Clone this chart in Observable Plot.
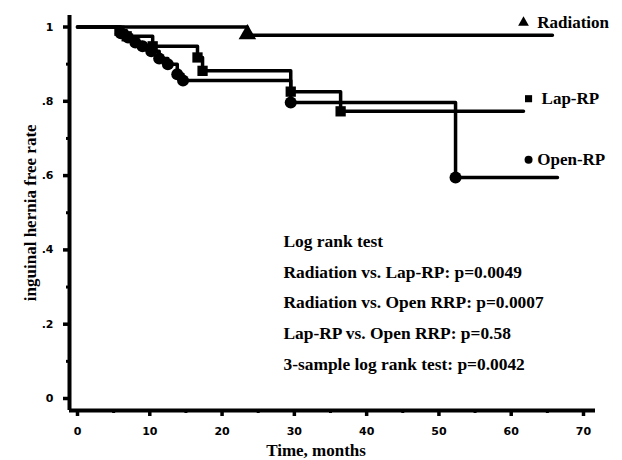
<!DOCTYPE html>
<html><head><meta charset="utf-8">
<script src="https://cdn.jsdelivr.net/npm/d3@7"></script>
<script src="https://cdn.jsdelivr.net/npm/@observablehq/plot@0.6"></script>
<style>body{margin:0;background:#fff} svg{display:block}</style>
</head><body><div id="chart"></div>
<script>
// Series and Kaplan-Meier step data (time in months, survival fraction)
const seriesNames = ["Radiation", "Lap-RP", "Open-RP"];
const radTime = [23.5];
const radSurv = [0.978];
const lapTime = [5.8, 6.8, 10.4, 16.6, 17.3, 29.5, 36.4];
const lapSurv = [0.99, 0.975, 0.948, 0.918, 0.882, 0.826, 0.773];
const openTime = [6.0, 7.0, 8.0, 9.0, 10.2, 11.3, 12.5, 13.8, 14.6, 29.5, 52.3];
const openSurv = [0.983, 0.972, 0.958, 0.948, 0.935, 0.915, 0.9, 0.873, 0.856, 0.797, 0.595];
const endTime = [65.7, 61.7, 66.4];

const xTicks = [0, 10, 20, 30, 40, 50, 60, 70];
const xMinor = [5, 15, 25, 35, 45, 55, 65];
const yTicks = [0, 0.2, 0.4, 0.6, 0.8, 1];
const yMinor = [0.1, 0.3, 0.5, 0.7, 0.9];
const yTickLabels = ["0", ".2", ".4", ".6", ".8", "1"];

const statLines = [
  "Log rank test",
  "Radiation vs. Lap-RP: p=0.0049",
  "Radiation vs. Open RRP: p=0.0007",
  "Lap-RP vs. Open RRP: p=0.58",
  "3-sample log rank test: p=0.0042"
];

// annotation layout (positions in data space)
const statX = 28.5;
const statY = [0.423, 0.339, 0.258, 0.175, 0.0915];
const legendX = [61.7, 62.4, 62.4];
const legendTextX = [63.6, 64.2, 63.6];
const legendY = [1.012, 0.807, 0.643];
const legendSymbols = ["triangle", "square", "circle"];

function steps(name, times, survs, end) {
  const pts = [{series: name, t: 0, s: 1}];
  times.forEach((t, i) => pts.push({series: name, t, s: survs[i]}));
  pts.push({series: name, t: end, s: survs[survs.length - 1]});
  return pts;
}
function events(name, times, survs) {
  return times.map((t, i) => ({series: name, t, s: survs[i]}));
}
const lines = [
  ...steps(seriesNames[0], radTime, radSurv, endTime[0]),
  ...steps(seriesNames[1], lapTime, lapSurv, endTime[1]),
  ...steps(seriesNames[2], openTime, openSurv, endTime[2])
];
const legend = seriesNames.map((name, i) => ({name, x: legendX[i], tx: legendTextX[i], y: legendY[i], sym: legendSymbols[i]}));
const stats = statLines.map((text, i) => ({text, x: statX, y: statY[i]}));

const serif = "'Liberation Serif', 'Times New Roman', serif";
const sans = "'DejaVu Sans', Arial, sans-serif";

const chart = Plot.plot({
  width: 622, height: 460,
  marginLeft: 69, marginRight: 27, marginTop: 15, marginBottom: 50,
  x: {domain: [0, 70], range: [77, 583]},
  y: {domain: [0, 1], range: [398, 26.5]},
  style: {background: "white", color: "black"},
  marks: [
    Plot.ruleX([0], {dx: -8, stroke: "black", strokeWidth: 4}),
    Plot.ruleY([0], {dy: 12, stroke: "black", strokeWidth: 4}),
    Plot.axisY(yMinor, {tickSize: 3, strokeWidth: 3, tickFormat: () => "", label: null}),
    Plot.axisY(yTicks, {tickSize: 6, strokeWidth: 3.5, tickPadding: 10, label: null,
      tickFormat: (d) => yTickLabels[yTicks.indexOf(d)],
      fontFamily: sans, fontWeight: "bold", fontSize: 11}),
    Plot.axisX(xMinor, {tickSize: 3, strokeWidth: 3, tickFormat: () => "", label: null}),
    Plot.axisX(xTicks, {tickSize: 6, strokeWidth: 3.5, tickPadding: 11, label: null,
      fontFamily: sans, fontWeight: "bold", fontSize: 11}),
    Plot.line(lines, {x: "t", y: "s", z: "series", curve: "step-after", stroke: "black", strokeWidth: 3.5}),
    Plot.dot(events(seriesNames[0], radTime, radSurv), {x: "t", y: "s", symbol: "triangle", fill: "black", r: 6.5, dy: -1}),
    Plot.dot(events(seriesNames[1], lapTime, lapSurv), {x: "t", y: "s", symbol: "square", fill: "black", r: 5.8}),
    Plot.dot(events(seriesNames[2], openTime, openSurv), {x: "t", y: "s", symbol: "circle", fill: "black", r: 6}),
    Plot.dot(legend, {x: "x", y: "y", symbol: "sym", fill: "black", r: 4}),
    Plot.text(legend, {x: "tx", y: "y", text: "name", textAnchor: "start", fontFamily: serif, fontWeight: "bold", fontSize: 17}),
    Plot.text(stats, {x: "x", y: "y", text: "text", textAnchor: "start",
      fontFamily: serif, fontWeight: "bold", fontSize: 17.4}),
    Plot.text(["inguinal hernia free rate"], {x: 0, y: 0.5, dx: -47, rotate: -90, text: (d) => d,
      fontFamily: serif, fontWeight: "bold", fontSize: 17}),
    Plot.text(["Time, months"], {x: 33, y: 0, dy: 52, text: (d) => d,
      fontFamily: serif, fontWeight: "bold", fontSize: 17})
  ]
});
document.getElementById("chart").appendChild(chart);
</script>
</body></html>
